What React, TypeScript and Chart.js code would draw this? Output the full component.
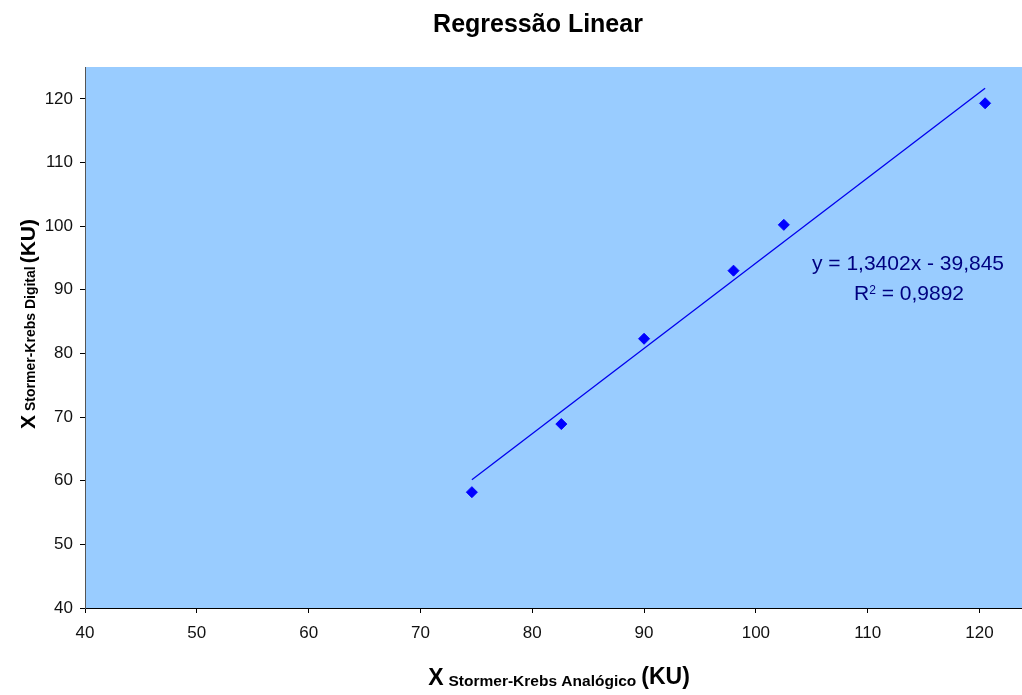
import React, { useEffect, useRef } from "react";
import { Chart, registerables } from "chart.js";

Chart.register(...registerables);

const xValues = [74.6, 82.6, 90.0, 98.0, 102.5, 120.5];
const yValues = [58.2, 68.9, 82.3, 93.0, 100.2, 119.3];
const SLOPE = 1.3402;
const INTERCEPT = -39.845;
const equationLines = ["y = 1,3402x - 39,845", "R2 = 0,9892"];
const titleText = "Regressão Linear";
const xTitle = ["X", "Stormer-Krebs Analógico", "(KU)"];
const yTitle = ["X", "Stormer-Krebs Digital", "(KU)"];

const FONT = "'Liberation Sans', Arial, Helvetica, sans-serif";

export default function App() {
  const ref = useRef<HTMLCanvasElement | null>(null);

  useEffect(() => {
    const canvas = ref.current;
    if (!canvas) return;
    const points = xValues.map((x, i) => ({ x, y: yValues[i] }));
    const xMin = Math.min(...xValues);
    const xMax = Math.max(...xValues);
    const trend = [
      { x: xMin, y: SLOPE * xMin + INTERCEPT },
      { x: xMax, y: SLOPE * xMax + INTERCEPT },
    ];

    const bgPlugin = {
      id: "bg",
      beforeDraw(chart: any) {
        const { ctx, chartArea } = chart;
        ctx.save();
        ctx.fillStyle = "#99CCFF";
        ctx.fillRect(chartArea.left, chartArea.top, chartArea.right - chartArea.left, chartArea.bottom - chartArea.top);
        ctx.restore();
      },
    };

    const textPlugin = {
      id: "texts",
      afterDraw(chart: any) {
        const { ctx } = chart;
        ctx.save();
        ctx.fillStyle = "#000";
        ctx.textBaseline = "alphabetic";
        // title
        ctx.font = `bold 25px ${FONT}`;
        ctx.textAlign = "center";
        ctx.fillText(titleText, 538, 32);

        // x title
        ctx.textAlign = "left";
        const bigF = `bold 23px ${FONT}`;
        const smallF = `bold 15.5px ${FONT}`;
        ctx.font = bigF;
        const w1 = ctx.measureText(xTitle[0]).width;
        const w3 = ctx.measureText(xTitle[2]).width;
        ctx.font = smallF;
        const w2 = ctx.measureText(xTitle[1]).width;
        const gap = 5;
        const total = w1 + gap + w2 + gap + w3;
        let sx = 559 - total / 2;
        const by = 685;
        ctx.font = bigF;
        ctx.fillText(xTitle[0], sx, by);
        sx += w1 + gap;
        ctx.font = smallF;
        ctx.fillText(xTitle[1], sx, by + 1);
        sx += w2 + gap;
        ctx.font = bigF;
        ctx.fillText(xTitle[2], sx, by - 1);

        // y title
        const yBig = `bold 21px ${FONT}`;
        const ySmall = `bold 14px ${FONT}`;
        ctx.save();
        ctx.translate(35, 324);
        ctx.rotate(-Math.PI / 2);
        ctx.font = yBig;
        const v1 = ctx.measureText(yTitle[0]).width;
        const v3 = ctx.measureText(yTitle[2]).width;
        ctx.font = ySmall;
        const v2 = ctx.measureText(yTitle[1]).width;
        const vt = v1 + 4 + v2 + 3 + v3;
        let sy = -vt / 2;
        ctx.font = yBig;
        ctx.fillText(yTitle[0], sy, 0);
        sy += v1 + 4;
        ctx.font = ySmall;
        ctx.fillText(yTitle[1], sy, 0);
        sy += v2 + 3;
        ctx.font = yBig;
        ctx.fillText(yTitle[2], sy, 0);
        ctx.restore();

        // equation
        ctx.fillStyle = "#000080";
        ctx.font = `21px ${FONT}`;
        ctx.textAlign = "center";
        ctx.fillText(equationLines[0], 908, 270);
        const r = equationLines[1];
        const base = "R";
        const rest = " = " + r.split("= ")[1];
        const wb = ctx.measureText(base).width;
        ctx.font = `12px ${FONT}`;
        const ws = ctx.measureText("2").width;
        ctx.font = `21px ${FONT}`;
        const wr = ctx.measureText(rest).width;
        const tot = wb + ws + wr;
        let ex = 909 - tot / 2;
        ctx.textAlign = "left";
        ctx.fillText(base, ex, 300);
        ex += wb;
        ctx.font = `12px ${FONT}`;
        ctx.fillText("2", ex, 294);
        ex += ws;
        ctx.font = `21px ${FONT}`;
        ctx.fillText(rest, ex, 300);
        ctx.restore();
      },
    };

    const chart = new Chart(canvas, {
      type: "scatter",
      data: {
        datasets: [
          {
            label: "Dados",
            data: points,
            backgroundColor: "#0000FF",
            borderColor: "#0000FF",
            pointStyle: "rectRot",
            pointRadius: 5.5,
            showLine: false,
          },
          {
            label: "Linear",
            data: trend,
            type: "line" as any,
            borderColor: "#0000EE",
            borderWidth: 1.3,
            pointRadius: 0,
            fill: false,
          } as any,
        ],
      },
      options: {
        animation: false,
        responsive: false,
        devicePixelRatio: 1,
        layout: { autoPadding: false, padding: { top: 67, left: 0, right: 0, bottom: 0 } },
        plugins: {
          legend: { display: false },
          title: { display: false },
          tooltip: { enabled: false },
        },
        scales: {
          x: {
            type: "linear",
            min: 40,
            max: 123.8,
            afterFit(scale: any) {
              scale.height = 87;
              scale.paddingRight = 0;
              scale.paddingLeft = 0;
            },
            ticks: {
              stepSize: 10,
              includeBounds: false,
              padding: 10,
              color: "#111",
              font: { family: FONT, size: 17 },
              maxRotation: 0,
            },
            grid: { drawOnChartArea: false, drawTicks: true, tickLength: 5, color: "#000" },
            border: { color: "#000", width: 1 },
          },
          y: {
            type: "linear",
            min: 40,
            max: 125,
            afterFit(scale: any) {
              scale.width = 85;
              scale.paddingTop = 0;
              scale.paddingBottom = 0;
            },
            ticks: {
              stepSize: 10,
              includeBounds: false,
              padding: 7,
              color: "#111",
              font: { family: FONT, size: 17 },
            },
            grid: { drawOnChartArea: false, drawTicks: true, tickLength: 5, color: "#000" },
            border: { color: "#555", width: 1 },
          },
        },
      },
      plugins: [bgPlugin, textPlugin],
    });
    return () => chart.destroy();
  }, []);

  return (
    <div style={{ position: "fixed", left: 0, top: 0, width: 1022, height: 695, background: "#fff" }}>
      <canvas ref={ref} width={1022} height={695} style={{ display: "block" }} />
    </div>
  );
}
